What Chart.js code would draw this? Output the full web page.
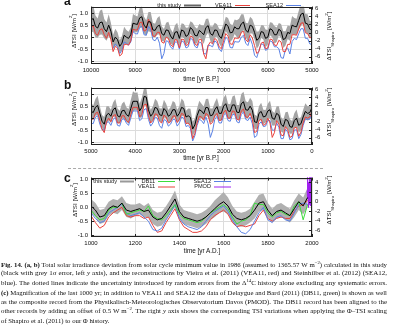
<!DOCTYPE html>
<html>
<head>
<meta charset="utf-8">
<title>TSI reconstructions</title>
<script src="https://cdn.jsdelivr.net/npm/chart.js@4.4.1/dist/chart.umd.min.js"></script>
<style>
  body { margin: 0; background: #fff; }
  #fig { position: relative; width: 400px; height: 325px; overflow: hidden; font-family: "Liberation Sans", Arial, sans-serif; color: #111; }
  canvas { position: absolute; left: 0; }
  .panel { position: absolute; left: 64px; font-size: 12px; line-height: 12px; font-weight: bold; }
  .ytitle { position: absolute; font-size: 6.2px; white-space: nowrap; transform: translate(-50%, -50%) rotate(-90deg); }
  .xtitle { position: absolute; font-size: 6.4px; white-space: nowrap; transform: translate(-50%, -50%); }
  .ytitle sup, .ytitle sub, #caption sup { font-size: 0.7em; line-height: 0; }
  .sep { position: absolute; left: 68px; width: 255px; top: 168px; border-top: 1px dashed #aaa; }
  #caption { position: absolute; left: 1px; top: 260px; width: 386px; font-family: "Liberation Serif", "Times New Roman", serif; font-size: 6.3px; line-height: 9.3px; color: #111; }
  #caption div { white-space: nowrap; }
  #caption div.just { text-align: justify; text-align-last: justify; }
</style>
</head>
<body>
<div id="fig">
  <canvas id="chartA" width="400" height="82" style="top:0px"></canvas>
  <canvas id="chartB" width="400" height="82" style="top:81px"></canvas>
  <canvas id="chartC" width="400" height="84" style="top:171px"></canvas>

  <div class="panel" style="top:-5px">a</div>
  <div class="panel" style="top:79px">b</div>
  <div class="panel" style="top:172px">c</div>

  <div class="ytitle" style="left:73px;top:31px">ΔTSI [W/m<sup>2</sup>]</div>
  <div class="ytitle" style="left:329px;top:36px">ΔTSI<sub>Shapiro</sub> [W/m<sup>2</sup>]</div>
  <div class="xtitle" style="left:201px;top:78px">time [yr B.P.]</div>

  <div class="ytitle" style="left:73px;top:109px">ΔTSI [W/m<sup>2</sup>]</div>
  <div class="ytitle" style="left:329px;top:112px">ΔTSI<sub>Shapiro</sub> [W/m<sup>2</sup>]</div>
  <div class="xtitle" style="left:201px;top:157px">time [yr B.P.]</div>

  <div class="sep"></div>

  <div class="ytitle" style="left:74px;top:200px">ΔTSI [W/m<sup>2</sup>]</div>
  <div class="ytitle" style="left:329px;top:200px">ΔTSI<sub>Shapiro</sub> [W/m<sup>2</sup>]</div>
  <div class="xtitle" style="left:202px;top:250px">time [yr A.D.]</div>

  <div id="caption">
    <div><b>Fig. 14. (a, b)</b> Total solar irradiance deviation from solar cycle minimum value in 1986 (assumed to 1365.57 W m<sup>−2</sup>) calculated in this study</div>
    <div>(black with grey 1σ error, left <i>y</i> axis), and the reconstructions by Vieira et al. (2011) (VEA11, red) and Steinhilber et al. (2012) (SEA12,</div>
    <div>blue). The dotted lines indicate the uncertainty introduced by random errors from the Δ<sup>14</sup>C history alone excluding any systematic errors.</div>
    <div><b>(c)</b> Magnification of the last 1000 yr; in addition to VEA11 and SEA12 the data of Delaygue and Bard (2011) (DB11, green) is shown as well</div>
    <div>as the composite record from the Physikalisch-Meteorologisches Observatorium Davos (PMOD). The DB11 record has been aligned to the</div>
    <div>other records by adding an offset of 0.5 W m<sup>−2</sup>. The right <i>y</i> axis shows the corresponding TSI variations when applying the Φ–TSI scaling</div>
    <div>of Shapiro et al. (2011) to our Φ history.</div>
  </div>
</div>

<script>
// ---- panel a: 10000-5000 yr B.P., 50 yr steps ----
const yearsA = [10000, 9950, 9900, 9850, 9800, 9750, 9700, 9650, 9600, 9550, 9500, 9450, 9400, 9350, 9300, 9250, 9200, 9150, 9100, 9050, 9000, 8950, 8900, 8850, 8800, 8750, 8700, 8650, 8600, 8550, 8500, 8450, 8400, 8350, 8300, 8250, 8200, 8150, 8100, 8050, 8000, 7950, 7900, 7850, 7800, 7750, 7700, 7650, 7600, 7550, 7500, 7450, 7400, 7350, 7300, 7250, 7200, 7150, 7100, 7050, 7000, 6950, 6900, 6850, 6800, 6750, 6700, 6650, 6600, 6550, 6500, 6450, 6400, 6350, 6300, 6250, 6200, 6150, 6100, 6050, 6000, 5950, 5900, 5850, 5800, 5750, 5700, 5650, 5600, 5550, 5500, 5450, 5400, 5350, 5300, 5250, 5200, 5150, 5100, 5050, 5000]
const studyA = [0.7, 0.78, 0.45, 0.38, 0.6, 0.63, 0.35, 0.23, 0.5, 0.25, -0.2, 0.0, -0.1, -0.38, -0.25, 0.08, 0.0, -0.05, 0.1, 0.58, 0.55, 0.53, 0.8, 0.85, 0.5, 0.38, 0.65, 0.63, 0.3, 0.28, 0.45, 0.5, 0.15, 0.08, 0.3, 0.28, 0.05, -0.08, 0.2, 0.23, -0.05, 0.3, 0.25, 0.03, 0.1, 0.4, 0.3, 0.08, 0.05, 0.28, 0.2, 0.1, 0.4, 0.48, 0.15, 0.08, 0.3, 0.28, 0.05, -0.05, 0.25, 0.55, 0.45, 0.18, 0.2, 0.43, 0.35, 0.35, 0.55, 0.63, 0.3, 0.2, 0.5, 0.45, 0.2, -0.13, -0.05, 0.23, 0.2, -0.05, 0.0, 0.35, 0.3, 0.1, 0.1, 0.33, 0.25, -0.1, -0.05, 0.2, 0.15, 0.5, 0.45, 0.43, 0.7, 0.95, 1.0, 0.58, 0.55, 0.33, 0.3]
const errA = [0.5, 0.55, 0.45, 0.4, 0.5, 0.52, 0.4, 0.38, 0.45, 0.35, 0.3, 0.35, 0.3, 0.25, 0.3, 0.35, 0.3, 0.27, 0.3, 0.38, 0.35, 0.33, 0.4, 0.45, 0.35, 0.32, 0.4, 0.42, 0.3, 0.28, 0.35, 0.38, 0.3, 0.26, 0.3, 0.36, 0.3, 0.27, 0.3, 0.37, 0.3, 0.28, 0.3, 0.36, 0.3, 0.26, 0.3, 0.35, 0.3, 0.27, 0.3, 0.38, 0.35, 0.3, 0.3, 0.36, 0.3, 0.26, 0.3, 0.37, 0.3, 0.3, 0.35, 0.38, 0.3, 0.3, 0.35, 0.42, 0.4, 0.32, 0.3, 0.38, 0.35, 0.3, 0.3, 0.36, 0.3, 0.26, 0.3, 0.37, 0.3, 0.27, 0.3, 0.36, 0.3, 0.26, 0.3, 0.35, 0.3, 0.28, 0.3, 0.38, 0.35, 0.33, 0.4, 0.48, 0.45, 0.38, 0.4, 0.35, 0.35]
const vea11A = [0.4, 0.48, 0.15, 0.08, 0.3, 0.35, 0.1, -0.05, 0.2, -0.1, -0.6, -0.38, -0.45, -0.78, -0.7, -0.3, -0.3, -0.33, -0.15, 0.33, 0.3, 0.3, 0.6, 0.63, 0.25, 0.3, 0.75, 0.55, 0.05, 0.03, 0.2, 0.2, -0.2, -0.25, 0.0, -0.05, -0.3, -0.4, -0.1, -0.13, -0.45, -0.08, -0.1, -0.35, -0.3, 0.05, 0.0, -0.28, -0.35, -0.08, -0.1, -0.7, -0.9, -0.35, -0.2, -0.28, -0.05, -0.13, -0.4, -0.48, -0.15, 0.15, 0.05, -0.28, -0.3, -0.03, -0.05, -0.03, 0.2, 0.25, -0.1, -0.2, 0.1, -0.03, -0.35, -0.68, -0.6, -0.25, -0.2, -0.48, -0.45, -0.08, -0.1, -0.33, -0.35, -0.13, -0.2, -0.6, -0.6, -0.3, -0.3, 0.1, 0.1, 0.08, 0.35, 0.58, 0.6, 0.18, 0.15, -0.03, 0.0]
const sea12A = [null, null, null, null, null, null, null, null, null, null, -0.45, -0.28, -0.4, -0.68, -0.55, -0.2, -0.25, -0.33, -0.2, 0.23, 0.15, 0.13, 0.4, 0.45, 0.1, 0.08, 0.45, 0.33, -0.1, -0.15, 0.0, -0.25, -0.9, -0.68, -0.15, -0.18, -0.4, -0.5, -0.2, -0.2, -0.5, -0.15, -0.2, -0.45, -0.4, -0.05, -0.1, -0.38, -0.45, -0.2, -0.25, -0.68, -0.7, -0.33, -0.35, -0.4, -0.15, -0.23, -0.5, -0.6, -0.3, 0.0, -0.1, -0.43, -0.45, -0.18, -0.2, -0.2, 0.0, 0.08, -0.25, -0.35, -0.05, -0.3, -0.75, -0.85, -0.55, -0.28, -0.3, -0.55, -0.5, -0.15, -0.2, -0.4, -0.4, -0.48, -0.85, -0.88, -0.5, -0.45, -0.7, -0.18, -0.05, -0.1, 0.15, 0.35, 0.35, -0.05, -0.05, -0.28, -0.3]

// ---- panel b: 5000-0 yr B.P., 50 yr steps ----
const yearsB = [5000, 4950, 4900, 4850, 4800, 4750, 4700, 4650, 4600, 4550, 4500, 4450, 4400, 4350, 4300, 4250, 4200, 4150, 4100, 4050, 4000, 3950, 3900, 3850, 3800, 3750, 3700, 3650, 3600, 3550, 3500, 3450, 3400, 3350, 3300, 3250, 3200, 3150, 3100, 3050, 3000, 2950, 2900, 2850, 2800, 2750, 2700, 2650, 2600, 2550, 2500, 2450, 2400, 2350, 2300, 2250, 2200, 2150, 2100, 2050, 2000, 1950, 1900, 1850, 1800, 1750, 1700, 1650, 1600, 1550, 1500, 1450, 1400, 1350, 1300, 1250, 1200, 1150, 1100, 1050, 1000, 950, 900, 850, 800, 750, 700, 650, 600, 550, 500, 450, 400, 350, 300, 250, 200, 150, 100, 50, 0]
const studyB = [0.3, 0.23, 0.45, 0.53, 0.2, -0.13, -0.25, 0.13, 0.2, 0.08, 0.35, 0.43, 0.1, 0.05, 0.3, 0.33, 0.15, 0.08, 0.4, 0.7, 0.7, 0.7, 0.3, 0.45, 0.9, 0.88, 0.35, 0.08, 0.2, 0.45, 0.4, 0.15, 0.1, 0.4, 0.3, 0.08, 0.15, 0.35, 0.35, 0.08, 0.2, 0.45, 0.4, 0.05, 0.1, 0.03, -0.45, -0.28, 0.1, 0.35, 0.3, 0.18, 0.45, 0.43, 0.1, 0.13, 0.35, 0.48, 0.2, 0.2, 0.5, 0.6, 0.3, 0.28, 0.55, 0.55, 0.25, 0.23, 0.6, 0.68, 0.35, 0.33, 0.5, 0.33, -0.15, -0.18, 0.2, 0.28, 0.05, 0.08, 0.3, 0.35, 0.0, -0.05, 0.2, 0.13, -0.25, -0.35, -0.05, -0.1, -0.35, -0.38, -0.1, 0.0, -0.3, -0.23, 0.05, 0.28, 0.2, 0.23, 0.45]
const errB = [0.35, 0.3, 0.35, 0.4, 0.3, 0.26, 0.3, 0.36, 0.3, 0.27, 0.3, 0.37, 0.3, 0.26, 0.3, 0.36, 0.3, 0.3, 0.35, 0.42, 0.35, 0.38, 0.3, 0.4, 0.35, 0.38, 0.3, 0.27, 0.3, 0.36, 0.3, 0.26, 0.3, 0.37, 0.3, 0.26, 0.3, 0.36, 0.3, 0.27, 0.3, 0.37, 0.3, 0.26, 0.3, 0.36, 0.3, 0.27, 0.3, 0.37, 0.3, 0.3, 0.35, 0.38, 0.3, 0.27, 0.3, 0.36, 0.3, 0.3, 0.35, 0.38, 0.3, 0.3, 0.35, 0.4, 0.3, 0.32, 0.4, 0.42, 0.35, 0.33, 0.35, 0.38, 0.3, 0.27, 0.3, 0.36, 0.3, 0.26, 0.3, 0.37, 0.3, 0.26, 0.3, 0.36, 0.3, 0.27, 0.3, 0.37, 0.3, 0.26, 0.3, 0.36, 0.3, 0.27, 0.3, 0.34, 0.3, 0.3, 0.35]
const vea11B = [0.0, -0.05, 0.2, 0.25, -0.1, -0.45, -0.6, -0.15, 0.0, -0.15, 0.1, 0.15, -0.2, -0.2, 0.1, 0.1, -0.1, -0.18, 0.15, 0.45, 0.45, 0.45, 0.05, 0.15, 0.55, 0.58, 0.1, -0.2, -0.1, 0.18, 0.15, -0.13, -0.2, 0.13, 0.05, -0.2, -0.15, 0.08, 0.1, -0.18, -0.05, 0.2, 0.15, -0.23, -0.2, -0.33, -0.85, -0.63, -0.2, 0.08, 0.05, -0.08, 0.2, 0.13, -0.25, -0.18, 0.1, 0.2, -0.1, -0.08, 0.25, 0.33, 0.0, 0.0, 0.3, 0.28, -0.05, -0.08, 0.3, 0.38, 0.05, 0.03, 0.2, -0.05, -0.6, -0.55, -0.1, -0.05, -0.3, -0.25, 0.0, -0.2, -0.8, -0.6, -0.1, -0.25, -0.7, -0.73, -0.35, -0.48, -0.8, -0.75, -0.4, -0.38, -0.75, -0.58, -0.2, 0.05, 0.0, 0.05, 0.3]
const sea12B = [-0.2, -0.23, 0.05, 0.1, -0.25, -0.48, -0.5, -0.18, -0.15, -0.3, -0.05, 0.03, -0.3, -0.33, -0.05, -0.03, -0.2, -0.3, 0.0, 0.3, 0.3, 0.3, -0.1, -0.03, 0.35, 0.4, -0.05, -0.33, -0.2, 0.05, 0.0, -0.31, -0.42, -0.06, -0.1, -0.33, -0.25, -0.05, -0.05, -0.33, -0.2, 0.05, 0.0, -0.35, -0.3, -0.43, -0.95, -0.73, -0.3, -0.05, -0.1, -0.23, 0.05, -0.23, -0.8, -0.53, -0.05, 0.08, -0.2, -0.2, 0.1, 0.2, -0.1, -0.13, 0.15, 0.15, -0.15, -0.2, 0.15, 0.25, -0.05, -0.1, 0.05, -0.23, -0.8, -0.73, -0.25, -0.15, -0.35, -0.33, -0.1, -0.1, -0.5, -0.5, -0.2, -0.38, -0.85, -0.85, -0.45, -0.58, -0.9, -0.85, -0.5, -0.48, -0.85, -0.68, -0.3, -0.03, -0.05, -0.03, 0.2]

// ---- panel c: 1000-2000 A.D. ----
const yearsC = [1000, 1020, 1040, 1060, 1080, 1100, 1120, 1140, 1160, 1180, 1200, 1220, 1240, 1260, 1280, 1300, 1320, 1340, 1360, 1380, 1400, 1420, 1440, 1460, 1480, 1500, 1520, 1540, 1560, 1580, 1600, 1620, 1640, 1660, 1680, 1700, 1720, 1740, 1760, 1780, 1800, 1820, 1840, 1860, 1880, 1900, 1920, 1940, 1960, 1980, 2000]
const studyC = [0.05, -0.1, -0.35, -0.3, -0.05, 0.05, 0.0, 0.15, -0.1, -0.15, -0.1, -0.05, -0.15, -0.1, -0.35, -0.45, -0.4, -0.2, 0.05, 0.3, -0.15, -0.35, -0.4, -0.45, -0.5, -0.45, -0.35, -0.2, -0.05, 0.1, 0.2, 0.05, -0.25, -0.4, -0.45, -0.4, -0.3, -0.1, 0.15, 0.2, -0.1, -0.3, -0.15, -0.1, -0.2, -0.3, -0.05, 0.2, 0.05, 0.35, null]
const errC = [0.25, 0.25, 0.25, 0.25, 0.25, 0.25, 0.25, 0.25, 0.25, 0.25, 0.2, 0.2, 0.2, 0.25, 0.25, 0.25, 0.25, 0.25, 0.25, 0.3, 0.25, 0.25, 0.25, 0.25, 0.25, 0.25, 0.25, 0.25, 0.3, 0.3, 0.35, 0.3, 0.3, 0.25, 0.25, 0.25, 0.25, 0.3, 0.3, 0.3, 0.25, 0.25, 0.25, 0.25, 0.25, 0.25, 0.3, 0.3, 0.3, 0.35, null]
const vea11C = [-0.3, -0.55, -0.75, -0.65, -0.35, -0.2, -0.1, 0.0, -0.3, -0.35, -0.3, -0.3, -0.4, -0.35, -0.65, -0.9, -0.85, -0.55, -0.3, -0.05, -0.45, -0.7, -0.8, -0.9, -0.9, -0.85, -0.7, -0.45, -0.3, -0.2, -0.1, -0.25, -0.55, -0.7, -0.65, -0.7, -0.65, -0.6, -0.3, -0.1, -0.4, -0.5, -0.4, -0.35, -0.4, -0.4, -0.15, 0.05, 0.1, 0.25, 0.2]
const sea12C = [-0.2, -0.4, -0.55, -0.5, -0.2, -0.1, 0.0, 0.12, -0.2, -0.3, -0.25, -0.2, -0.35, -0.5, -0.8, -0.85, -0.75, -0.45, -0.2, 0.1, -0.4, -0.6, -0.7, -0.75, -0.8, -0.7, -0.5, -0.3, -0.15, -0.05, 0.05, -0.15, -0.45, -0.7, -0.9, -0.95, -0.8, -0.5, -0.2, 0.0, -0.45, -0.55, -0.35, -0.3, -0.45, -0.5, -0.2, 0.1, 0.15, 0.1, null]
const db11C = [-0.1, -0.3, -0.45, -0.4, -0.1, 0.0, 0.0, 0.15, -0.25, -0.2, -0.15, -0.1, -0.15, 0.05, -0.3, -0.4, -0.45, -0.3, -0.1, 0.1, -0.25, -0.4, -0.45, -0.5, -0.55, -0.5, -0.35, -0.2, -0.1, 0.0, 0.1, -0.05, -0.35, -0.6, -0.5, -0.45, -0.3, 0.15, 0.1, 0.1, -0.2, -0.35, -0.2, -0.15, -0.25, -0.3, 0.05, 0.2, -0.45, 0.1, null]
const pmodYears = [1978.0, 1978.5, 1979.0, 1979.5, 1980.0, 1980.5, 1981.0, 1981.5, 1982.0, 1982.5, 1983.0, 1983.5, 1984.0, 1984.5, 1985.0, 1985.5, 1986.0, 1986.5, 1987.0, 1987.5, 1988.0, 1988.5, 1989.0, 1989.5, 1990.0, 1990.5, 1991.0, 1991.5, 1992.0, 1992.5, 1993.0, 1993.5, 1994.0, 1994.5, 1995.0, 1995.5, 1996.0, 1996.5, 1997.0, 1997.5, 1998.0, 1998.5, 1999.0, 1999.5, 2000.0]
const pmodTSI = [0.6, 1.1, 0.4, 1.2, 0.5, 1.2, 0.3, 1.1, 0.4, 0.9, 0.2, 0.7, 0.1, 0.5, 0.05, 0.3, 0.0, 0.25, 0.1, 0.4, 0.3, 0.9, 0.5, 1.2, 0.4, 1.1, 0.5, 1.2, 0.3, 0.9, 0.2, 0.6, 0.1, 0.4, 0.05, 0.3, 0.0, 0.25, 0.1, 0.5, 0.3, 0.9, 0.5, 1.1, 0.6]

// axis ticks
const ticksA = [10000, 9000, 8000, 7000, 6000, 5000]
const ticksB = [5000, 4000, 3000, 2000, 1000, 0]
const ticksC = [1000, 1200, 1400, 1600, 1800, 2000]
const tsiTicks = [-1, -0.5, 0, 0.5, 1]
const shapiroTicksAB = [-6, -4, -2, 0, 2, 4, 6]
const shapiroTicksC = [-6, -4, -2, 0, 2, 4]

const RED = '#e8413c'
const BLUE = '#5b82e4'
const GREEN = '#3cdc3c'
const PURPLE = '#a020f0'
const FONT = '"Liberation Sans", Arial, sans-serif'

const pts = (xs, ys) => xs.map((x, i) => ({x: x, y: ys[i]}))

function line(data, color, order) {
  return {data, borderColor: color, borderWidth: 1, pointRadius: 0, fill: false, tension: 0, order}
}

function band(years, mid, err, color) {
  const up = mid.map((v, i) => v === null ? null : v + err[i])
  const lo = mid.map((v, i) => v === null ? null : v - err[i])
  return [
    {data: pts(years, up), borderColor: 'rgba(0,0,0,0)', borderWidth: 0, pointRadius: 0, fill: '+1', backgroundColor: color, order: 10},
    {data: pts(years, lo), borderColor: 'rgba(0,0,0,0)', borderWidth: 0, pointRadius: 0, fill: false, order: 11}
  ]
}

// black frame with small inward tick marks, gnuplot style
const framePlugin = {
  id: 'frame',
  afterDatasetsDraw(chart) {
    const {ctx, chartArea: a, scales} = chart
    ctx.save()
    ctx.strokeStyle = '#222'
    ctx.lineWidth = 1
    ctx.beginPath()
    scales.x.ticks.forEach(t => {
      const px = Math.round(scales.x.getPixelForValue(t.value)) + 0.5
      ctx.moveTo(px, a.bottom); ctx.lineTo(px, a.bottom - 3)
      ctx.moveTo(px, a.top); ctx.lineTo(px, a.top + 3)
    })
    scales.y.ticks.forEach(t => {
      const py = Math.round(scales.y.getPixelForValue(t.value)) + 0.5
      ctx.moveTo(a.left, py); ctx.lineTo(a.left + 3, py)
    })
    scales.y2.ticks.forEach(t => {
      const py = Math.round(scales.y2.getPixelForValue(t.value)) + 0.5
      ctx.moveTo(a.right, py); ctx.lineTo(a.right - 3, py)
    })
    ctx.stroke()
    ctx.strokeRect(Math.round(a.left) + 0.5, Math.round(a.top) + 0.5, Math.round(a.right - a.left) - 1, Math.round(a.bottom - a.top) - 1)
    ctx.restore()
  }
}

// key drawn inside the plot: text right-aligned, then a short sample line
function keyPlugin(items) {
  return {
    id: 'key',
    afterDatasetsDraw(chart) {
      const ctx = chart.ctx
      ctx.save()
      ctx.font = '5.6px ' + FONT
      ctx.fillStyle = '#222'
      ctx.textAlign = 'right'
      ctx.textBaseline = 'middle'
      items.forEach(it => {
        ctx.fillText(it.text, it.tx, it.y)
        ctx.strokeStyle = it.color
        ctx.lineWidth = it.w || 1
        ctx.beginPath()
        ctx.moveTo(it.x1, it.y + 0.5)
        ctx.lineTo(it.x2, it.y + 0.5)
        ctx.stroke()
      })
      ctx.restore()
    }
  }
}

function setTicks(list) {
  return axis => { axis.ticks = list.map(v => ({value: v})) }
}

function makePanel(id, cfg) {
  const tickFont = {family: FONT, size: 6}
  return new Chart(document.getElementById(id), {
    type: 'line',
    data: {datasets: cfg.datasets},
    plugins: [framePlugin, keyPlugin(cfg.key)],
    options: {
      responsive: false,
      devicePixelRatio: 1,
      animation: false,
      events: [],
      layout: {padding: {top: 2, left: 0, right: 0, bottom: 0}, autoPadding: false},
      plugins: {legend: {display: false}, tooltip: {enabled: false}},
      scales: {
        x: {
          type: 'linear', min: cfg.xMin, max: cfg.xMax, reverse: cfg.reverse,
          afterBuildTicks: setTicks(cfg.xTicks),
          afterFit: ax => { ax.height = 18 },
          ticks: {font: tickFont, color: '#111', padding: 3, maxRotation: 0, autoSkip: false, callback: v => String(v)},
          grid: {color: '#dcdcdc', drawTicks: false},
          border: {display: false}
        },
        y: {
          position: 'left', min: cfg.yMin, max: cfg.yMax,
          afterBuildTicks: setTicks(tsiTicks),
          afterFit: ax => { ax.width = 91 },
          ticks: {font: tickFont, color: '#111', padding: 3, autoSkip: false, callback: v => v.toFixed(1)},
          grid: {color: '#dcdcdc', drawTicks: false},
          border: {display: false}
        },
        y2: {
          position: 'right', min: cfg.y2Min, max: cfg.y2Max,
          afterBuildTicks: setTicks(cfg.y2Ticks),
          afterFit: ax => { ax.width = 88 },
          ticks: {font: tickFont, color: '#111', padding: 3, autoSkip: false, callback: v => String(v)},
          grid: {drawOnChartArea: false, drawTicks: false},
          border: {display: false}
        }
      }
    }
  })
}

makePanel('chartA', {
  xMin: 5000, xMax: 10000, reverse: true, xTicks: ticksA,
  yMin: -1.115, yMax: 1.27, y2Min: -7.85, y2Max: 6.46, y2Ticks: shapiroTicksAB,
  datasets: [
    ...band(yearsA, studyA, errA, '#a5a5a5'),
    line(pts(yearsA, studyA), '#000', 0),
    line(pts(yearsA, sea12A), BLUE, 2),
    line(pts(yearsA, vea11A), RED, 1)
  ],
  key: [
    {text: 'this study', tx: 181, y: 5, color: '#666', w: 2, x1: 184, x2: 201},
    {text: 'VEA11', tx: 232, y: 5, color: RED, x1: 235, x2: 250},
    {text: 'SEA12', tx: 283, y: 5, color: BLUE, x1: 286, x2: 301}
  ]
})

makePanel('chartB', {
  xMin: 0, xMax: 5000, reverse: true, xTicks: ticksB,
  yMin: -1.115, yMax: 1.27, y2Min: -7.85, y2Max: 6.46, y2Ticks: shapiroTicksAB,
  datasets: [
    ...band(yearsB, studyB, errB, '#a5a5a5'),
    line(pts(yearsB, studyB), '#000', 0),
    line(pts(yearsB, sea12B), BLUE, 2),
    line(pts(yearsB, vea11B), RED, 1)
  ],
  key: []
})

makePanel('chartC', {
  xMin: 1000, xMax: 2000, reverse: false, xTicks: ticksC,
  yMin: -1.067, yMax: 1.067, y2Min: -7.35, y2Max: 4.96, y2Ticks: shapiroTicksC,
  datasets: [
    ...band(yearsC, studyC, errC, '#b0b0b0'),
    line(pts(yearsC, studyC), '#000', 0),
    line(pts(yearsC, db11C), GREEN, 1),
    line(pts(yearsC, sea12C), BLUE, 2),
    line(pts(yearsC, vea11C), RED, 3),
    line(pts(pmodYears, pmodTSI), PURPLE, 1)
  ],
  key: [
    {text: 'this study', tx: 117, y: 10, color: '#999', w: 2, x1: 120, x2: 134},
    {text: 'DB11', tx: 155, y: 10, color: GREEN, x1: 158, x2: 175},
    {text: 'VEA11', tx: 155, y: 15.5, color: RED, x1: 158, x2: 175},
    {text: 'SEA12', tx: 211, y: 10, color: BLUE, x1: 214, x2: 231},
    {text: 'PMOD', tx: 211, y: 15.5, color: PURPLE, x1: 214, x2: 231}
  ]
})

// caption: grow each full line to fill the column (capped) and justify it;
// the short closing line takes the smallest size used above it
const COL = 386
const lines = Array.from(document.querySelectorAll('#caption div'))
const last = lines.pop()
let smallest = 7.2
lines.forEach(d => {
  const r = document.createRange()
  r.selectNodeContents(d)
  const w = r.getBoundingClientRect().width
  const size = Math.min(7.2, 6.3 * COL / w * 0.99)
  smallest = Math.min(smallest, size)
  d.style.fontSize = size.toFixed(2) + 'px'
  d.classList.add('just')
})
last.style.fontSize = smallest.toFixed(2) + 'px'
</script>
</body>
</html>
